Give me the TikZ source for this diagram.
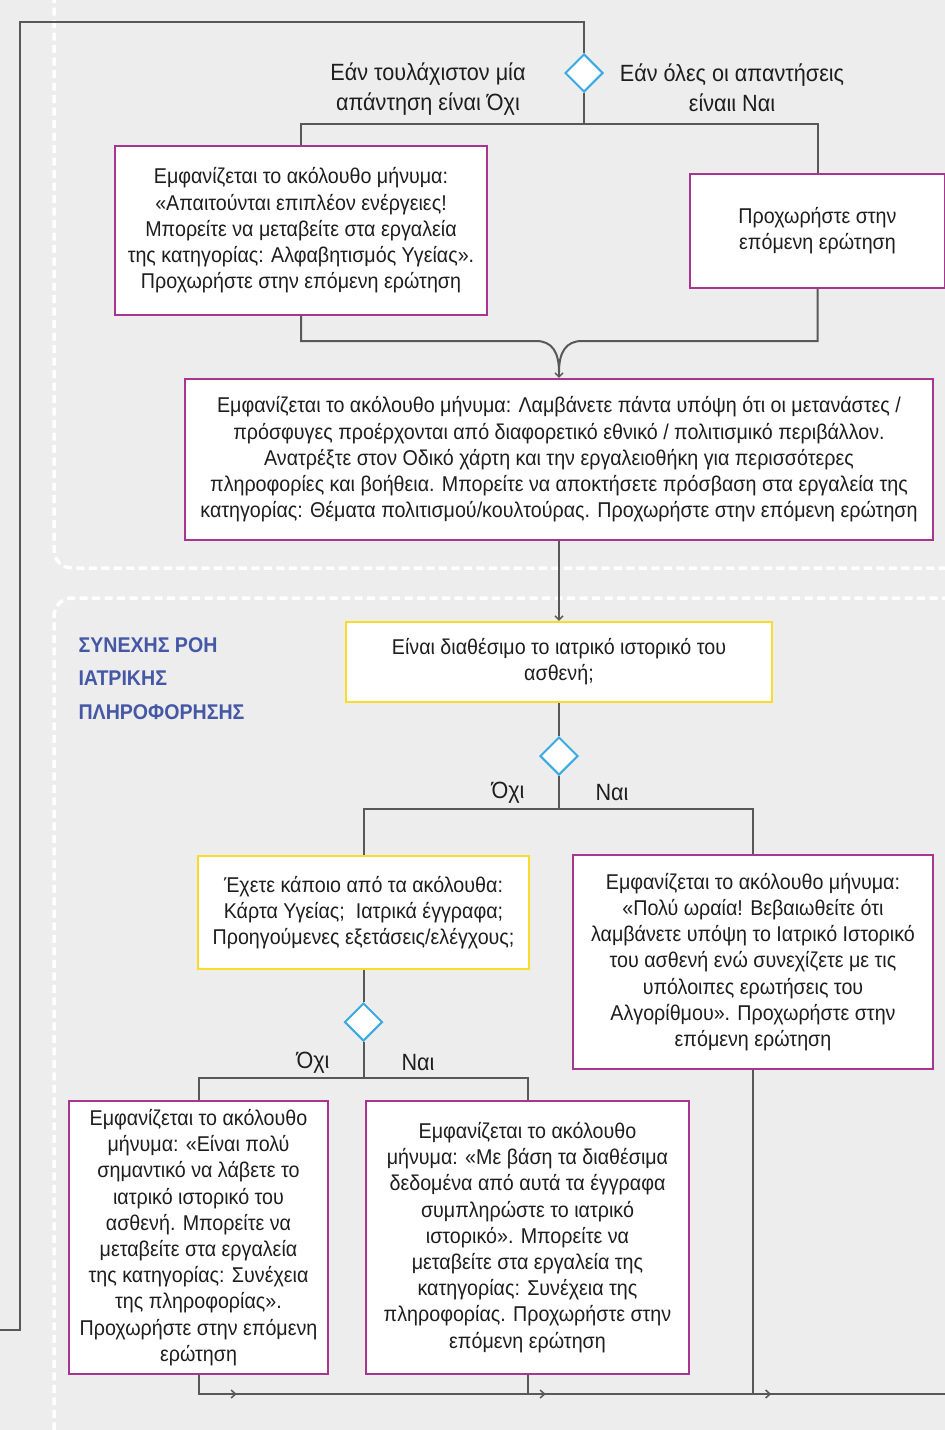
\documentclass[tikz,border=0pt]{standalone}
\usepackage{fontspec}
\setmainfont{Liberation Sans}[FakeStretch=0.92]
\usetikzlibrary{shapes.geometric,arrows.meta,decorations.markings}
\definecolor{bg}{HTML}{EDEDED}
\definecolor{mag}{HTML}{A8358F}
\definecolor{yel}{HTML}{F7DC2C}
\definecolor{dblue}{HTML}{3AAAE3}
\definecolor{tblue}{HTML}{4558A6}
\definecolor{ln}{HTML}{585858}
\definecolor{txt}{HTML}{1E1E1E}
\tikzset{
  box/.style={draw, line width=2.4pt, fill=white, inner sep=0pt, align=center, text=txt,
     font=\fontsize{21.4}{26.2}\selectfont},
  mbox/.style={box, draw=mag},
  ybox/.style={box, draw=yel},
  tshift/.style={execute at begin node={\rule{0pt}{#1}}},
  dec/.style={shape=diamond, draw=dblue, fill=white, line width=2pt, minimum width=38pt, minimum height=38pt, inner sep=0pt},
  conn/.style={draw=ln, line width=2pt},
  tip/.style={-{Straight Barb[length=4pt,width=8pt,line width=1.4pt]}},
  btip/.style={postaction={decorate}, decoration={markings, mark=at position #1 with {\arrow[ln]{Straight Barb[length=4.5pt,width=8pt,line width=1.5pt]}}}},
  lbl/.style={text=txt, align=center, font=\fontsize{23.5}{30.5}\selectfont},
  sect/.style={draw=white, line width=3.5pt, dash pattern=on 8pt off 4.5pt, rounded corners=18pt},
}
\begin{document}
\begin{tikzpicture}[x=1pt,y=-1pt]
\fill[bg] (0,0) rectangle (945,1430);
\useasboundingbox (0,0) rectangle (945,1430);
% section borders
\draw[sect] (54,-5) -- (54,568) -- (950,568);
\draw[sect] (950,598) -- (54,598) -- (54,1445);
% title
\node[anchor=north west, text=tblue, align=left, font=\fontsize{21.3}{33.5}\selectfont\bfseries] (title) at (75,634) {ΣΥΝΕΧΗΣ ΡΟΗ\\ΙΑΤΡΙΚΗΣ\\ΠΛΗΡΟΦΟΡΗΣΗΣ};
% nodes
\node[dec] (d1) at (584,73) {};
\node[lbl] (l1) at (428,89) {Εάν τουλάχιστον μία\\απάντηση είναι Όχι};
\node[lbl] (l2) at (732,88) {Εάν όλες οι απαντήσεις\\είναιι Ναι};
\node[mbox, minimum width=372pt, minimum height=169pt] (b1) at (301,230.5) {Εμφανίζεται το ακόλουθο μήνυμα:\\«Απαιτούνται επιπλέον ενέργειες!\\Μπορείτε να μεταβείτε στα εργαλεία\\της κατηγορίας: Αλφαβητισμός Υγείας».\\Προχωρήστε στην επόμενη ερώτηση};
\node[mbox, minimum width=255pt, minimum height=114pt, tshift=21pt] (b2) at (817.5,231) {Προχωρήστε στην\\επόμενη ερώτηση};
\node[mbox, minimum width=748pt, minimum height=161pt, tshift=25pt] (b3) at (559,459.5) {Εμφανίζεται το ακόλουθο μήνυμα: Λαμβάνετε πάντα υπόψη ότι οι μετανάστες /\\πρόσφυγες προέρχονται από διαφορετικό εθνικό / πολιτισμικό περιβάλλον.\\Ανατρέξτε στον Οδικό χάρτη και την εργαλειοθήκη για περισσότερες\\πληροφορίες και βοήθεια. Μπορείτε να αποκτήσετε πρόσβαση στα εργαλεία της\\κατηγορίας: Θέματα πολιτισμού/κουλτούρας. Προχωρήστε στην επόμενη ερώτηση};
\node[ybox, minimum width=426pt, minimum height=80pt, tshift=27pt] (b4) at (559,662) {Είναι διαθέσιμο το ιατρικό ιστορικό του\\ασθενή;};
\node[dec] (d2) at (559,756) {};
\node[lbl] (l3) at (508,793) {Όχι};
\node[lbl] (l4) at (612,793) {Ναι};
\node[ybox, minimum width=331pt, minimum height=113pt] (b5) at (363.5,912.5) {Έχετε κάποιο από τα ακόλουθα:\\Κάρτα Υγείας;\ \ Ιατρικά έγγραφα;\\Προηγούμενες εξετάσεις/ελέγχους;};
\node[mbox, minimum width=360pt, minimum height=214pt, tshift=25pt] (b6) at (753,962) {Εμφανίζεται το ακόλουθο μήνυμα:\\«Πολύ ωραία! Βεβαιωθείτε ότι\\λαμβάνετε υπόψη το Ιατρικό Ιστορικό\\του ασθενή ενώ συνεχίζετε με τις\\υπόλοιπες ερωτήσεις του\\Αλγορίθμου». Προχωρήστε στην\\επόμενη ερώτηση};
\node[dec] (d3) at (363.5,1022) {};
\node[lbl] (l5) at (313,1063) {Όχι};
\node[lbl] (l6) at (418,1063) {Ναι};
\node[mbox, minimum width=259pt, minimum height=273pt, tshift=21pt] (b7) at (198.5,1237.5) {Εμφανίζεται το ακόλουθο\\μήνυμα: «Είναι πολύ\\σημαντικό να λάβετε το\\ιατρικό ιστορικό του\\ασθενή. Μπορείτε να\\μεταβείτε στα εργαλεία\\της κατηγορίας: Συνέχεια\\της πληροφορίας».\\Προχωρήστε στην επόμενη\\ερώτηση};
\node[mbox, minimum width=323pt, minimum height=273pt, tshift=23pt] (b8) at (527.5,1237.5) {Εμφανίζεται το ακόλουθο\\μήνυμα: «Με βάση τα διαθέσιμα\\δεδομένα από αυτά τα έγγραφα\\συμπληρώστε το ιατρικό\\ιστορικό». Μπορείτε να\\μεταβείτε στα εργαλεία της\\κατηγορίας: Συνέχεια της\\πληροφορίας. Προχωρήστε στην\\επόμενη ερώτηση};
\coordinate (loopin) at (0,1330);
\coordinate (exit) at (945,1394);
% connectors
\draw[conn] (loopin) -| (20,22) -| (d1.north);
\draw[conn] (d1.south) -- ++(0,31) -| (b1.north);
\draw[conn] (d1.south) -- ++(0,31) -| (b2.north);
\draw[conn] (b1.south) |- (536,341) .. controls (552,341) and (559,352) .. (559,372);
\draw[conn] (b2.south) |- (582,341) .. controls (566,341) and (559,352) .. (559,372);
\draw[conn, tip] (559,368) -- (b3.north);
\draw[conn, line width=1.4pt, tip] (b3.south) -- (b4.north);
\draw[conn] (b4.south) -- (d2.north);
\draw[conn] (d2.south) -- ++(0,33) -| (b5.north);
\draw[conn] (d2.south) -- ++(0,33) -| (b6.north);
\draw[conn] (b5.south) -- (d3.north);
\draw[conn] (d3.south) -- ++(0,36) -| (b7.north);
\draw[conn] (d3.south) -- ++(0,36) -| (b8.north);
\draw[conn, btip=57pt] (b7.south) |- (exit);
\draw[conn, btip=37pt] (b8.south) |- (exit);
\draw[conn, btip=342pt] (b6.south) |- (exit);
\end{tikzpicture}
\end{document}
